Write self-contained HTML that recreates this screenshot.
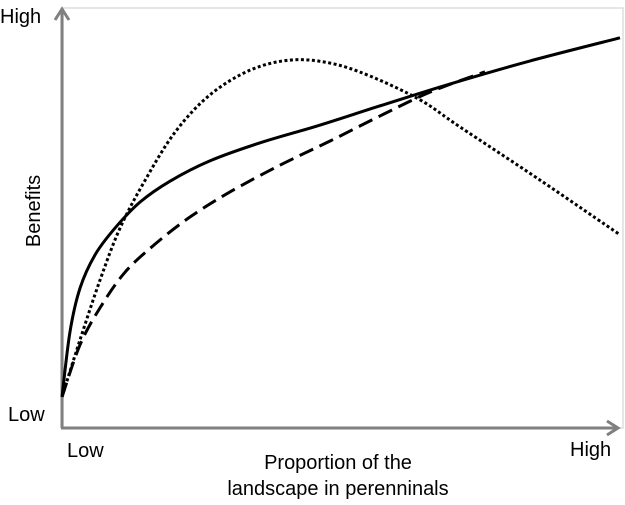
<!DOCTYPE html>
<html><head><meta charset="utf-8"><style>
body{margin:0;background:#fff}
svg text{font-family:"Liberation Sans",Arial,sans-serif;font-size:20px;fill:#000}
</style></head><body>
<svg id="c" width="625" height="500">
<rect x="63" y="8" width="560" height="420" fill="none" stroke="#ddd" stroke-width="1.5"/>
<line x1="62" y1="428" x2="62" y2="10" stroke="#808080" stroke-width="3"/>
<polyline points="55,20 62,9 69,20" fill="none" stroke="#808080" stroke-width="3"/>
<line x1="61" y1="428" x2="618" y2="428" stroke="#808080" stroke-width="3"/>
<polyline points="607,421 618,428 607,435" fill="none" stroke="#808080" stroke-width="3"/>
<text x="0" y="23">High</text>
<text x="8" y="421">Low</text>
<text x="67" y="457">Low</text>
<text x="570" y="456">High</text>
<text x="338" y="469" text-anchor="middle">Proportion of the</text>
<text x="338" y="495" text-anchor="middle">landscape in perenninals</text>
<text x="40" y="211" text-anchor="middle" transform="rotate(-90 40 211)">Benefits</text>
</svg>
<script>
const solidX=[0,1.43,3.23,5.91,9.5,14.0,19.4,26.5,35.5,46.2,57.0,69.5,83.9,100];
const solidY=[7.4,22.9,33.3,41.2,47.6,53.8,58.8,63.6,67.9,72.1,76.7,81.9,87.4,92.9];
const dashedX=[0,3.23,6.81,11.3,16.7,22.9,30.1,39.1,48.0,57.0,66.0,75.8];
const dashedY=[7.4,19.8,28.6,37.1,43.8,50.2,56.2,62.6,68.3,74.3,80.0,84.8];
const dottedX=[0,3.23,6.81,10.4,14.9,20.3,26.5,33.7,40.9,48.0,55.2,64.2,71.3,85.7,100];
const dottedY=[7.4,21.0,35.2,47.6,59.0,70.5,79.3,85.2,87.6,86.9,83.8,78.1,71.7,59.0,46.0];
const sx=v=>62+v*5.58, sy=v=>428-v*4.2;
function path(xs,ys){
  const p=xs.map((x,i)=>[sx(x),sy(ys[i])]);
  let d='M'+p[0][0]+','+p[0][1];
  for(let i=0;i<p.length-1;i++){
    const p0=p[i-1]||p[i],p1=p[i],p2=p[i+1],p3=p[i+2]||p2;
    d+=' C'+(p1[0]+(p2[0]-p0[0])/6)+','+(p1[1]+(p2[1]-p0[1])/6)+' '+(p2[0]-(p3[0]-p1[0])/6)+','+(p2[1]-(p3[1]-p1[1])/6)+' '+p2[0]+','+p2[1];
  }
  return d;
}
const svg=document.getElementById('c');
function add(xs,ys,dash,w,name){
  const el=document.createElementNS('http://www.w3.org/2000/svg','path');
  el.setAttribute('d',path(xs,ys));
  el.setAttribute('fill','none');el.setAttribute('stroke','#000');el.setAttribute('stroke-width',w);
  if(dash)el.setAttribute('stroke-dasharray',dash);
  
  
  svg.appendChild(el);
}
add(dottedX,dottedY,'3 2.5','3','dotted-curve');
add(dashedX,dashedY,'15 7','3','dashed-curve');
add(solidX,solidY,null,'3','solid-curve');
</script>
</body></html>
